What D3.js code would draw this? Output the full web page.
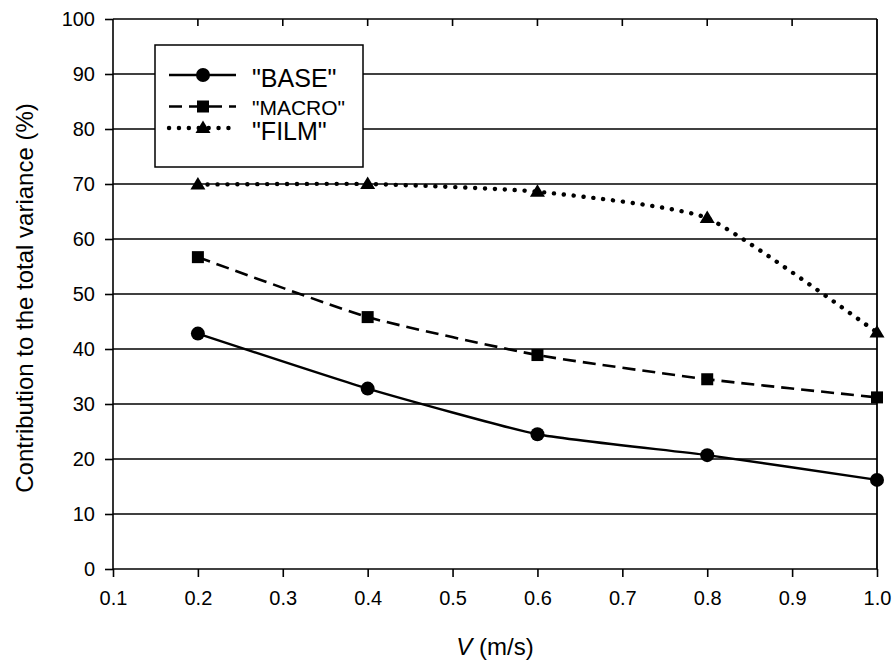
<!DOCTYPE html>
<html>
<head>
<meta charset="utf-8">
<script src="https://cdn.jsdelivr.net/npm/d3@7"></script>
<style>
  html, body { margin: 0; padding: 0; background: #fff; }
  svg { display: block; font-family: "Liberation Sans", Arial, Helvetica, sans-serif; }
</style>
</head>
<body>
<svg id="chart" width="894" height="661"></svg>
<script>
// ---- data ----
const velocities = [0.2, 0.4, 0.6, 0.8, 1.0];
const baseValues = [42.8, 32.8, 24.5, 20.7, 16.2];
const macroValues = [56.7, 45.8, 38.9, 34.5, 31.2];
const filmValues = [69.9, 70.0, 68.6, 63.8, 43.0];
const seriesNames = ['"BASE"', '"MACRO"', '"FILM"'];
const xTicks = [0.1, 0.2, 0.3, 0.4, 0.5, 0.6, 0.7, 0.8, 0.9, 1.0];
const yTicks = [0, 10, 20, 30, 40, 50, 60, 70, 80, 90, 100];
const xTitle = "V";
const xTitleUnit = " (m/s)";
const yTitle = "Contribution to the total variance (%)";

// ---- layout ----
const svg = d3.select("#chart");
const L = 113, R = 877, T = 19, B = 569;
const x = d3.scaleLinear().domain([0.1, 1.0]).range([L, R]);
const y = d3.scaleLinear().domain([0, 100]).range([B, T]);

const g = svg.append("g");

// gridlines
g.append("g").selectAll("line").data(yTicks.filter(d => d > 0)).join("line")
  .attr("x1", L).attr("x2", R)
  .attr("y1", d => y(d)).attr("y2", d => y(d))
  .attr("stroke", "#000").attr("stroke-width", 1.6);

// y axis
const yAxis = g.append("g").attr("transform", `translate(${L},0)`)
  .call(d3.axisLeft(y).tickValues(yTicks).tickSize(8).tickPadding(10).tickFormat(d3.format("d")));
yAxis.select(".domain").attr("stroke-width", 1.6).attr("d", `M0,${T}V${B}`);
yAxis.selectAll(".tick line").attr("stroke-width", 1.6);
yAxis.selectAll("text").attr("font-size", 20).attr("fill", "#000");

// x axis
const xAxis = g.append("g").attr("transform", `translate(0,${B})`)
  .call(d3.axisBottom(x).tickValues(xTicks).tickSize(8).tickPadding(14).tickFormat(d3.format(".1f")));
xAxis.select(".domain").attr("stroke-width", 1.6).attr("d", `M${L},0H${R}`);
xAxis.selectAll(".tick line").attr("stroke-width", 1.6);
xAxis.selectAll("text").attr("font-size", 20).attr("fill", "#000");

// top inward ticks
g.append("g").selectAll("line").data(xTicks.slice(1, -1)).join("line")
  .attr("x1", d => x(d)).attr("x2", d => x(d))
  .attr("y1", T).attr("y2", T + 7)
  .attr("stroke", "#000").attr("stroke-width", 1.6);

// right border
g.append("line").attr("x1", R).attr("x2", R).attr("y1", T).attr("y2", B)
  .attr("stroke", "#000").attr("stroke-width", 1.8);

// series
const curve = d3.curveCardinal.tension(0.5);
const line = d3.line().x((d, i) => x(velocities[i])).y(d => y(d)).curve(curve);

const series = [
  { name: seriesNames[0], values: baseValues, dash: null, width: 2.4, cap: "butt", marker: "circle" },
  { name: seriesNames[1], values: macroValues, dash: "13,7", width: 2.6, cap: "butt", marker: "square" },
  { name: seriesNames[2], values: filmValues, dash: "0.1,9.8", width: 4.4, cap: "round", marker: "triangle" }
];

function drawMarker(sel, type, cx, cy) {
  if (type === "circle") {
    sel.append("circle").attr("cx", cx).attr("cy", cy).attr("r", 7).attr("fill", "#000");
  } else if (type === "square") {
    sel.append("rect").attr("x", cx - 6).attr("y", cy - 6).attr("width", 12).attr("height", 12).attr("fill", "#000");
  } else {
    sel.append("path").attr("d", `M${cx},${cy - 7.5}L${cx + 7.5},${cy + 5}L${cx - 7.5},${cy + 5}Z`).attr("fill", "#000");
  }
}

series.forEach(s => {
  g.append("path").attr("d", line(s.values))
    .attr("fill", "none").attr("stroke", "#000")
    .attr("stroke-width", s.width)
    .attr("stroke-linecap", s.cap)
    .attr("stroke-dasharray", s.dash);
  const mg = g.append("g");
  s.values.forEach((v, i) => drawMarker(mg, s.marker, x(velocities[i]), y(v)));
});

// legend
const lg = svg.append("g");
lg.append("rect").attr("x", 155).attr("y", 45).attr("width", 208).attr("height", 122)
  .attr("fill", "#fff").attr("stroke", "#000").attr("stroke-width", 1.5);
const legendRows = [
  { ly: 75, ty: 86.5, fs: 25 },
  { ly: 106.5, ty: 115, fs: 21 },
  { ly: 128, ty: 140, fs: 25 }
];
series.forEach((s, i) => {
  const r = legendRows[i];
  lg.append("line").attr("x1", 169).attr("x2", 236).attr("y1", r.ly).attr("y2", r.ly)
    .attr("stroke", "#000").attr("stroke-width", s.width)
    .attr("stroke-linecap", s.cap).attr("stroke-dasharray", s.dash);
  drawMarker(lg, s.marker, 203, r.ly);
  lg.append("text").attr("x", 252).attr("y", r.ty).attr("font-size", r.fs).attr("fill", "#000").text(s.name);
});

// axis titles
const xt = svg.append("text").attr("x", 495).attr("y", 655).attr("text-anchor", "middle")
  .attr("font-size", 24).attr("fill", "#000");
xt.append("tspan").attr("font-style", "italic").text(xTitle);
xt.append("tspan").text(xTitleUnit);

svg.append("text").attr("transform", "translate(33,298) rotate(-90)")
  .attr("text-anchor", "middle").attr("font-size", 24).attr("fill", "#000").text(yTitle);
</script>
</body>
</html>
